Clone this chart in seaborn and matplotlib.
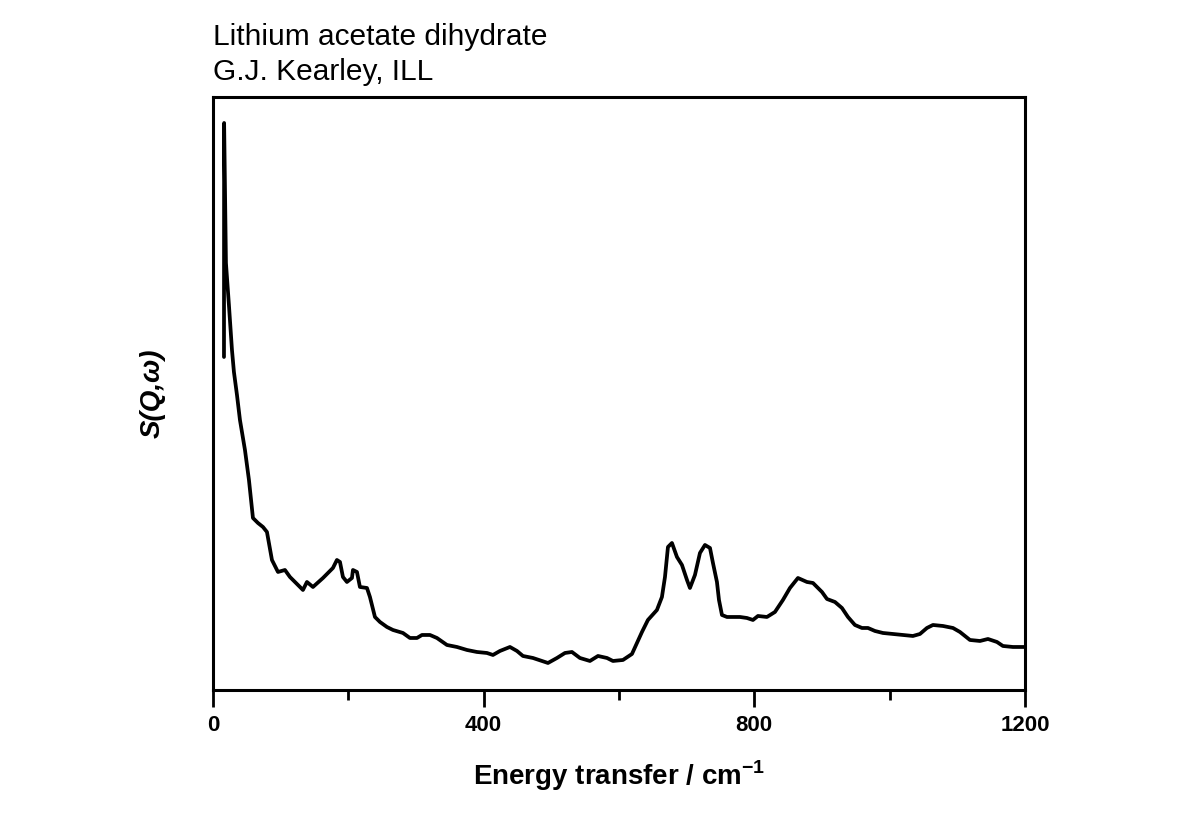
import matplotlib
matplotlib.use("Agg")
import matplotlib.pyplot as plt
import seaborn as sns
import pandas as pd
from matplotlib.ticker import MultipleLocator

# INS spectrum (energy in cm-1, intensity in arb. units)
energy = [16.3, 16.5, 19.2, 23.6, 28.1, 31.0, 35.5, 39.9, 47.3, 53.2,
          59.1, 66.5, 73.9, 79.8, 87.2, 96.1, 106.4, 113.8, 128.6, 133.0,
          138.9, 147.8, 162.6, 177.3, 183.2, 187.7, 192.1, 198.0, 205.4, 206.9,
          212.8, 217.2, 227.6, 232.0, 239.4, 246.8, 257.1, 266.0, 280.8, 291.1,
          301.5, 308.9, 320.7, 331.0, 345.8, 360.6, 375.4, 390.1, 404.9, 413.8,
          424.1, 438.9, 449.3, 458.1, 472.9, 495.1, 508.4, 520.2, 530.5, 542.3,
          557.1, 569.0, 582.3, 591.1, 605.9, 619.2, 626.6, 634.0, 642.8, 656.1,
          663.5, 668.0, 672.4, 678.3, 685.7, 693.1, 700.5, 704.9, 712.3, 719.7,
          727.1, 734.5, 738.9, 744.8, 747.8, 752.2, 759.6, 778.8, 789.1, 798.0,
          805.4, 818.7, 830.5, 842.3, 852.7, 864.5, 877.8, 886.7, 900.0, 907.4,
          919.2, 929.5, 938.4, 948.7, 959.1, 968.0, 978.3, 990.1, 1004.9, 1019.7,
          1034.4, 1044.8, 1055.1, 1064.0, 1078.8, 1093.6, 1103.9, 1118.7, 1133.5, 1145.3,
          1158.6, 1167.4, 1182.2, 1198.5]
intensity = [333, 567, 427, 385, 340, 318, 295, 270, 240, 210,
             172, 167, 163, 158, 130, 118, 120, 113, 103, 100,
             108, 103, 112, 122, 130, 128, 113, 108, 112, 120,
             118, 103, 102, 93, 73, 68, 63, 60, 57, 52,
             52, 55, 55, 52, 45, 43, 40, 38, 37, 35,
             39, 43, 39, 34, 32, 27, 32, 37, 38, 32,
             29, 34, 32, 29, 30, 36, 47, 58, 70, 80,
             93, 113, 143, 147, 133, 125, 110, 102, 115, 137,
             145, 142, 127, 108, 90, 75, 73, 73, 72, 70,
             74, 73, 78, 90, 102, 112, 108, 107, 98, 91,
             88, 82, 73, 65, 62, 62, 59, 57, 56, 55,
             54, 56, 62, 65, 64, 62, 58, 50, 49, 51,
             48, 44, 43, 43]

df = pd.DataFrame({"energy": energy, "intensity": intensity})

sns.set_style("white")
plt.rcParams["font.family"] = ["Liberation Sans", "DejaVu Sans"]
plt.rcParams["text.color"] = "black"
plt.rcParams["axes.labelcolor"] = "black"
plt.rcParams["xtick.color"] = "black"
plt.rcParams["mathtext.fontset"] = "custom"
plt.rcParams["mathtext.bf"] = "Liberation Sans:bold"
plt.rcParams["mathtext.rm"] = "Liberation Sans"

fig = plt.figure(figsize=(11.91, 8.31), dpi=100)
ax = fig.add_axes([0.1788, 0.1697, 0.6818, 0.7136])

sns.lineplot(data=df, x="energy", y="intensity", color="black", linewidth=2.7,
             estimator=None, sort=False, ax=ax)

ax.set_xlim(0, 1200)
ax.set_ylim(0, 593)
ax.xaxis.set_major_locator(MultipleLocator(400))
ax.xaxis.set_minor_locator(MultipleLocator(200))
ax.set_yticks([])
ax.tick_params(axis="x", which="major", direction="out", length=12, width=2,
               bottom=True, top=False, labelsize=16, pad=6)
ax.tick_params(axis="x", which="minor", direction="out", length=7, width=2,
               bottom=True, top=False)
for lab in ax.get_xticklabels():
    lab.set_fontweight("bold")
for sp in ax.spines.values():
    sp.set_linewidth(2.2)
    sp.set_color("black")

ax.set_xlabel("Energy transfer / cm$^{\\mathbf{-1}}$", fontsize=20, fontweight="bold", labelpad=16)
ax.set_ylabel("S(Q,ω)", fontsize=20, fontweight="bold", style="italic", labelpad=34)

fig.text(213 / 1191, 1 - 45 / 831, "Lithium acetate dihydrate", fontsize=21.5,
         ha="left", va="baseline")
fig.text(213 / 1191, 1 - 80 / 831, "G.J. Kearley, ILL", fontsize=21.5,
         ha="left", va="baseline")

fig.savefig("out.png", dpi=100)
